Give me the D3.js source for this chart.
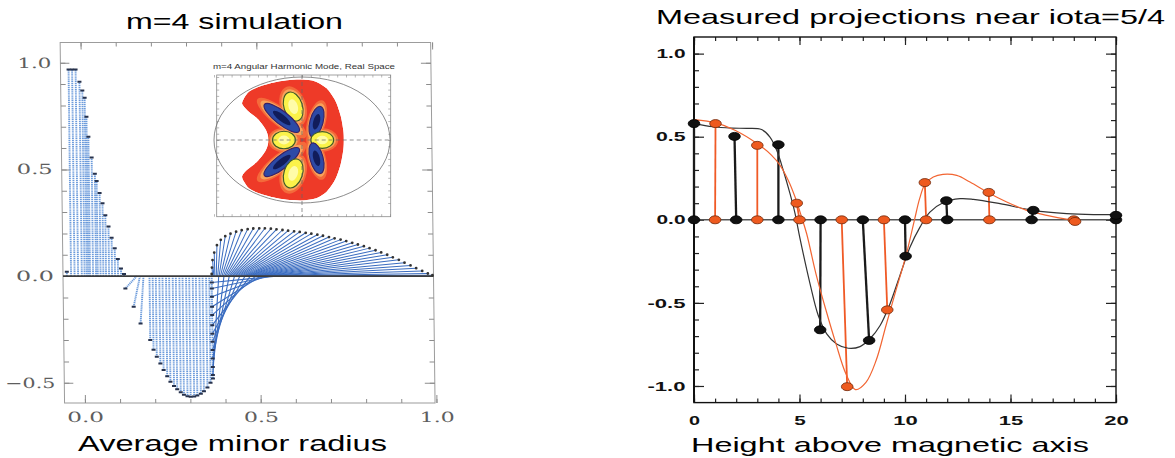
<!DOCTYPE html>
<html>
<head>
<meta charset="utf-8">
<title>m=4 mode: simulation and measured projections</title>
<script src="https://d3js.org/d3.v7.min.js"></script>
<style>
  html, body { margin: 0; padding: 0; background: #fff; }
  svg { display: block; }
</style>
</head>
<body>
<svg id="chart" width="1175" height="458"></svg>
<script>
// ================= Left panel: simulated m=4 radial profile =================
// Positive core near the axis (vertical stems)
const coreR   = [-0.047,-0.035,-0.025,-0.015,-0.0045,0.0034,0.0097,0.0142,0.019,0.0276,0.0361,0.041,0.049,0.0569,0.0645,0.0731,0.0816,0.0901,0.0986,0.1072,0.1157];
const coreVal = [0.02,0.969,0.969,0.969,0.911,0.87,0.836,0.747,0.653,0.556,0.48,0.446,0.39,0.341,0.285,0.232,0.18,0.13,0.08,0.036,0.01];

// Negative well: radius on the baseline, projected radius, value
const wellBase = [0.152,0.161,0.171,0.188,0.197,0.206,0.216,0.225,0.235,0.244,0.254,0.263,0.273,0.282,0.292,0.301,0.311,0.320,0.330,0.339,0.349,0.358,0.365];
const wellR    = [0.119,0.142,0.161,0.188,0.197,0.206,0.216,0.225,0.235,0.244,0.254,0.263,0.273,0.282,0.292,0.301,0.311,0.320,0.330,0.339,0.349,0.358,0.365];
const wellVal  = [-0.058,-0.144,-0.222,-0.30,-0.345,-0.378,-0.41,-0.44,-0.47,-0.495,-0.515,-0.53,-0.545,-0.556,-0.563,-0.566,-0.565,-0.56,-0.552,-0.54,-0.522,-0.50,-0.48];

// Values collapsing onto one projected radius, fanned back to the baseline
const columnR    = 0.365;
const columnVal  = [-0.03,-0.058,-0.097,-0.144,-0.183,-0.23,-0.27,-0.308,-0.347,-0.386,-0.426,-0.464];
const columnBase = [0.55,0.535,0.52,0.505,0.49,0.475,0.46,0.445,0.43,0.415,0.40,0.385];

// Outer positive arch
const archR    = [0.365,0.366,0.368,0.373,0.381,0.392,0.405,0.420,0.436,0.452,0.469,0.485,0.502,0.518,0.535,0.551,0.568,0.584,0.601,0.617,0.634,0.650,0.667,0.683,0.700,0.716,0.733,0.749,0.766,0.782,0.799,0.815,0.832,0.848,0.865,0.881,0.898,0.914,0.931,0.947,0.964,0.980,0.993];
const archVal  = [0.010,0.040,0.075,0.110,0.145,0.170,0.187,0.199,0.208,0.215,0.220,0.223,0.224,0.224,0.222,0.219,0.216,0.213,0.210,0.207,0.203,0.199,0.194,0.189,0.183,0.177,0.171,0.164,0.156,0.148,0.140,0.131,0.121,0.111,0.100,0.088,0.076,0.063,0.050,0.037,0.024,0.012,0.004];
const archBase = [0.365,0.368,0.371,0.374,0.378,0.382,0.386,0.390,0.394,0.398,0.402,0.406,0.410,0.414,0.418,0.422,0.426,0.430,0.434,0.438,0.442,0.446,0.450,0.454,0.458,0.462,0.466,0.470,0.474,0.478,0.483,0.487,0.491,0.496,0.500,0.505,0.509,0.514,0.518,0.523,0.528,0.533,0.538];

const leftXTicks = [0, 0.5, 1.0];
const leftXLabels = ["0.0", "0.5", "1.0"];
const leftXMinor = [0,0.1,0.2,0.3,0.4,0.5,0.6,0.7,0.8,0.9,1.0];
const leftYTicks = [-0.5, 0, 0.5, 1.0];
const leftYLabels = ["\u22120.5", "0.0", "0.5", "1.0"];
const leftYMinor = [-0.5,-0.4,-0.3,-0.2,-0.1,0,0.1,0.2,0.3,0.4,0.5,0.6,0.7,0.8,0.9,1.0];

// Inset: m=4 angular harmonic mode in real space (normalised coordinates)
const crescentU = [-0.66,-0.60,-0.48,-0.33,-0.17,0.00,0.15,0.28,0.38,0.44,0.47,0.475,0.47,0.44,0.38,0.28,0.15,0.00,-0.17,-0.33,-0.48,-0.60,-0.66,-0.68,-0.62,-0.50,-0.41,-0.38,-0.41,-0.50,-0.62,-0.68];
const crescentV = [0.66,0.77,0.85,0.91,0.95,0.96,0.93,0.82,0.62,0.38,0.15,0.0,-0.15,-0.38,-0.62,-0.82,-0.93,-0.96,-0.95,-0.91,-0.85,-0.77,-0.66,-0.57,-0.47,-0.33,-0.16,0.0,0.16,0.33,0.47,0.57];
const lobeU     = [-0.10,-0.23,0.165,-0.205,0.23,-0.23,0.165,-0.10];
const lobeV     = [0.53,0.35,0.29,0.0,0.0,-0.35,-0.29,-0.53];
const lobeLen   = [0.17,0.25,0.18,0.13,0.13,0.25,0.18,0.17];
const lobeWid   = [0.105,0.075,0.075,0.10,0.095,0.075,0.075,0.105];
const lobeAngle = [72,38,105,0,0,-38,-105,-72];
const lobeSign  = [1,-1,-1,1,1,-1,-1,1];

// ================= Right panel: measured projections near iota=5/4 =================
const blackBase = [0,2,4,6,8,10,12,16,20];
const blackTip  = [0,1.92,4.0,5.98,8.3,10.03,11.96,16.08,20];
const blackVal  = [0.579,0.502,0.452,-0.662,-0.726,-0.219,0.115,0.057,0.027];
const orangeBase = [1,3,5,7,9,11,14,18];
const orangeTip  = [1.02,3.0,4.87,7.26,9.16,10.94,13.97,18.06];
const orangeVal  = [0.579,0.448,0.10,-1.004,-0.542,0.224,0.165,-0.01];

const blackFitX = [0,0.9,1.8,2.5,3.2,3.6,3.92,4.23,4.55,4.79,5.02,5.5,5.89,6.29,6.76,7.31,7.87,8.34,8.82,9.29,9.76,10.24,10.71,11.18,11.82,12.61,13.24,14.5,16.08,17.66,18.93,20];
const blackFitY = [0.579,0.56,0.552,0.55,0.543,0.498,0.418,0.298,0.157,0.037,-0.11,-0.385,-0.576,-0.686,-0.747,-0.773,-0.763,-0.716,-0.636,-0.505,-0.335,-0.164,-0.044,0.046,0.104,0.127,0.123,0.097,0.057,0.037,0.031,0.031];
const orangeFitX = [0,1.04,1.94,3.0,3.68,4.08,4.47,4.79,5.1,5.34,5.78,6.26,6.73,7.2,7.65,8.15,8.63,9.1,9.57,10.05,10.45,10.7,10.95,11.34,11.8,12.45,13.08,13.95,14.82,15.77,16.72,17.98];
const orangeFitY = [0.603,0.583,0.539,0.458,0.388,0.328,0.237,0.137,0.016,-0.084,-0.325,-0.546,-0.747,-0.927,-1.022,-0.978,-0.847,-0.636,-0.425,-0.214,0.0,0.13,0.215,0.257,0.273,0.267,0.227,0.163,0.107,0.057,0.027,-0.004];

const rightXTicks = [0,5,10,15,20];
const rightXLabels = ["0","5","10","15","20"];
const rightXMinor = [0,1,2,3,4,5,6,7,8,9,10,11,12,13,14,15,16,17,18,19,20];
const rightYTicks = [-1.0,-0.5,0,0.5,1.0];
const rightYLabels = ["-1.0","-0.5","0.0","0.5","1.0"];
const rightYMinor = [-1.0,-0.9,-0.8,-0.7,-0.6,-0.5,-0.4,-0.3,-0.2,-0.1,0,0.1,0.2,0.3,0.4,0.5,0.6,0.7,0.8,0.9,1.0];

// ================= drawing =================
const svg = d3.select("#chart");

// widen tick labels to the set advance widths (keyed by tick value index)
function stretch(sel, widths) {
  sel.attr("textLength", (d, i) => widths[i]).attr("lengthAdjust", "spacingAndGlyphs");
}

function label(g, text, x, y, width, size, opts = {}) {
  return g.append("text")
    .attr("x", x).attr("y", y)
    .attr("text-anchor", "middle")
    .attr("font-family", opts.family || "'Liberation Sans', Arial, sans-serif")
    .attr("font-size", size)
    .attr("font-weight", opts.weight || "normal")
    .attr("fill", opts.fill || "#000")
    .attr("textLength", width)
    .attr("lengthAdjust", "spacingAndGlyphs")
    .text(text);
}

// ---------- left panel ----------
const L = { left: 63, right: 433.5, top: 42.5, bottom: 403 };
const lx = d3.scaleLinear().domain([-0.058, 0.996]).range([L.left, L.right]);
const ly = d3.scaleLinear().domain([-0.595, 1.095]).range([L.bottom, L.top]);
const y0 = ly(0);

label(svg, "m=4 simulation", 234.5, 29, 217, 22);
label(svg, "Average minor radius", 232.5, 451, 309, 22);

const left = svg.append("g")
  .attr("transform", `translate(0,${y0}) skewX(0.7) translate(0,${-y0})`);

left.append("rect")
  .attr("x", L.left).attr("y", L.top)
  .attr("width", L.right - L.left).attr("height", L.bottom - L.top)
  .attr("fill", "none").attr("stroke", "#9c9c9c").attr("stroke-width", 1);

function styleLeftAxis(g) {
  g.select(".domain").remove();
  g.selectAll(".tick line").attr("stroke", "#8c8c8c").attr("stroke-width", 1);
  g.selectAll("text").attr("font-family", "'DejaVu Serif', 'Liberation Serif', serif")
    .attr("font-size", 14).attr("fill", "#5e5e5e");
}

left.append("g").attr("transform", `translate(${L.left},0)`)
  .call(d3.axisLeft(ly).tickValues(leftYMinor).tickSize(-5).tickFormat(""))
  .call(styleLeftAxis);
left.append("g").attr("transform", `translate(${L.left},0)`)
  .call(d3.axisLeft(ly).tickValues(leftYTicks).tickSize(-9).tickPadding(9)
    .tickFormat((d, i) => leftYLabels[i]))
  .call(styleLeftAxis)
  .call(g => stretch(g.selectAll("text"), [50, 38, 36, 34]));
left.append("g").attr("transform", `translate(${L.right},0)`)
  .call(d3.axisRight(ly).tickValues(leftYMinor).tickSize(-5).tickFormat(""))
  .call(styleLeftAxis);
left.append("g").attr("transform", `translate(${L.right},0)`)
  .call(d3.axisRight(ly).tickValues(leftYTicks).tickSize(-10).tickFormat(""))
  .call(styleLeftAxis);
left.append("g").attr("transform", `translate(0,${L.bottom})`)
  .call(d3.axisBottom(lx).tickValues(leftXMinor).tickSize(-4).tickFormat(""))
  .call(styleLeftAxis);
left.append("g").attr("transform", `translate(0,${L.bottom})`)
  .call(d3.axisBottom(lx).tickValues(leftXTicks).tickSize(-8).tickPadding(9)
    .tickFormat((d, i) => leftXLabels[i]))
  .call(styleLeftAxis)
  .call(g => stretch(g.selectAll("text"), [37, 35, 35]));
left.append("g").attr("transform", `translate(0,${L.top})`)
  .call(d3.axisTop(lx).tickValues(leftXMinor).tickSize(-4).tickFormat(""))
  .call(styleLeftAxis);
left.append("g").attr("transform", `translate(0,${L.top})`)
  .call(d3.axisTop(lx).tickValues(leftXTicks).tickSize(-7).tickFormat(""))
  .call(styleLeftAxis);

// stems: each runs from (base, 0) to (projected radius, value)
const coreStems = coreR.map((r, i) => ({ b: r, r, v: coreVal[i] }));
const wellStems = wellR.map((r, i) => ({ b: wellBase[i], r, v: wellVal[i] }));
const colStems = columnVal.map((v, i) => ({ b: columnBase[i], r: columnR, v }));
const archStems = archR.map((r, i) => ({ b: archBase[i], r, v: archVal[i] }));

const stemG = left.append("g");
function drawStems(data, color, width, dash) {
  stemG.append("g").selectAll("line").data(data).join("line")
    .attr("x1", d => lx(d.b)).attr("y1", y0)
    .attr("x2", d => lx(d.r)).attr("y2", d => ly(d.v))
    .attr("stroke", color).attr("stroke-width", width)
    .attr("stroke-dasharray", dash || null);
}
drawStems(coreStems, "#6c9bdb", 1.9, "1.2 0.7");
drawStems(wellStems, "#6c9bdb", 1.9, "1.2 0.7");
drawStems(colStems, "#3a6cc0", 1.1);
drawStems(archStems, "#3a6cc0", 1);

left.append("line")
  .attr("x1", L.left).attr("x2", L.right).attr("y1", y0).attr("y2", y0)
  .attr("stroke", "#3c3c3c").attr("stroke-width", 1.8);

const markG = left.append("g").attr("fill", "#27324c");
markG.selectAll("rect.tip")
  .data(coreStems.concat(wellStems, colStems)).join("rect")
  .attr("x", d => lx(d.r) - 2).attr("y", d => ly(d.v) - 1)
  .attr("width", 4).attr("height", 2);
markG.selectAll("circle").data(archStems).join("circle")
  .attr("cx", d => lx(d.r)).attr("cy", d => ly(d.v)).attr("r", 1.4).attr("fill", "#333");

// ---------- inset ----------
const insetX = d3.scaleLinear().domain([-1, 1]).range([214, 390]);
const insetY = d3.scaleLinear().domain([-1, 1]).range([203, 77]);
const ux = insetX(1) - insetX(0);
const inset = svg.append("g");
const IF = { left: 216.7, right: 390.7, top: 75, bottom: 216.7 };

inset.append("rect").attr("x", IF.left).attr("y", IF.top)
  .attr("width", IF.right - IF.left).attr("height", IF.bottom - IF.top)
  .attr("fill", "#fff").attr("stroke", "#8a8a8a").attr("stroke-width", 0.8);
label(inset, "m=4 Angular Harmonic Mode, Real Space", 304, 68.5, 182, 7.8, { fill: "#333" });

const insetTicks = (g, axis, size) => g.call(axis.tickSize(size).tickFormat(""))
  .call(a => { a.select(".domain").remove(); a.selectAll("line").attr("stroke", "#8a8a8a").attr("stroke-width", 0.6); });
inset.append("g").attr("transform", `translate(0,${IF.top})`).call(g => insetTicks(g, d3.axisTop(insetX).ticks(20), -2.5));
inset.append("g").attr("transform", `translate(0,${IF.bottom})`).call(g => insetTicks(g, d3.axisBottom(insetX).ticks(20), -2.5));
inset.append("g").attr("transform", `translate(${IF.left},0)`).call(g => insetTicks(g, d3.axisLeft(insetY).ticks(20), -2.5));
inset.append("g").attr("transform", `translate(${IF.right},0)`).call(g => insetTicks(g, d3.axisRight(insetY).ticks(20), -2.5));

const crescent = d3.line().curve(d3.curveCardinalClosed.tension(0.2))
  .x(i => insetX(crescentU[i])).y(i => insetY(crescentV[i]))(d3.range(crescentU.length));

inset.append("clipPath").attr("id", "crescentClip").append("path").attr("d", crescent);
const mode = inset.append("g").attr("clip-path", "url(#crescentClip)");
mode.append("path").attr("d", crescent).attr("fill", "#ee3a28");

const lobes = lobeU.map((u, i) => ({
  cx: insetX(u), cy: insetY(lobeV[i]), a: lobeLen[i] * ux, b: lobeWid[i] * ux,
  rot: lobeAngle[i], pos: lobeSign[i] > 0
}));
function lobeLayer(scale, fill, stroke, sw) {
  mode.append("g").selectAll("ellipse").data(lobes).join("ellipse")
    .attr("transform", d => `translate(${d.cx},${d.cy}) rotate(${d.rot})`)
    .attr("rx", d => d.a * scale).attr("ry", d => d.b * scale)
    .attr("fill", d => typeof fill === "function" ? fill(d) : fill)
    .attr("stroke", d => stroke ? (typeof stroke === "function" ? stroke(d) : stroke) : "none")
    .attr("stroke-width", sw || 0);
}
lobeLayer(1.4, "#f46a3a");
lobeLayer(1.2, "#f8a25a");
lobeLayer(1.0, d => d.pos ? "#fbf24a" : "#2c4aa6", d => d.pos ? "#3c5a26" : "#3a1f66", 1.1);
lobeLayer(0.5, d => d.pos ? "#fffca8" : "#111c5a");

inset.append("ellipse")
  .attr("cx", insetX(0)).attr("cy", insetY(0))
  .attr("rx", ux).attr("ry", insetY(0) - insetY(1))
  .attr("fill", "none").attr("stroke", "#6e6e6e").attr("stroke-width", 0.8);
inset.append("line").attr("x1", IF.left).attr("x2", IF.right)
  .attr("y1", insetY(0)).attr("y2", insetY(0))
  .attr("stroke", "#666").attr("stroke-width", 0.7).attr("stroke-dasharray", "4 3");
inset.append("line").attr("x1", insetX(0)).attr("x2", insetX(0))
  .attr("y1", IF.top).attr("y2", IF.bottom)
  .attr("stroke", "#666").attr("stroke-width", 0.7).attr("stroke-dasharray", "4 3");

// ---------- right panel ----------
const R = { left: 694, right: 1116, top: 37, bottom: 402.6 };
const rx = d3.scaleLinear().domain([0, 20]).range([R.left, R.right]);
const ry = d3.scaleLinear().domain([-1.1, 1.1]).range([R.bottom, R.top]);
const right = svg.append("g");

label(svg, "Measured projections near iota=5/4", 910.5, 23.5, 509, 21);
label(svg, "Height above magnetic axis", 890, 452, 398, 21);

function styleRightAxis(g) {
  g.select(".domain").remove();
  g.selectAll(".tick line").attr("stroke", "#222").attr("stroke-width", 1.2);
  g.selectAll("text").attr("font-family", "'Liberation Sans', Arial, sans-serif")
    .attr("font-size", 13).attr("font-weight", "bold").attr("fill", "#111");
}
right.append("g").attr("transform", `translate(${R.left},0)`)
  .call(d3.axisLeft(ry).tickValues(rightYMinor).tickSize(-5).tickFormat("")).call(styleRightAxis);
right.append("g").attr("transform", `translate(${R.left},0)`)
  .call(d3.axisLeft(ry).tickValues(rightYTicks).tickSize(-10).tickPadding(8.5)
    .tickFormat((d, i) => rightYLabels[i]))
  .call(styleRightAxis)
  .call(g => stretch(g.selectAll("text"), [38, 38, 29, 29.5, 29]));
right.append("g").attr("transform", `translate(${R.right},0)`)
  .call(d3.axisRight(ry).tickValues(rightYMinor).tickSize(-5).tickFormat("")).call(styleRightAxis);
right.append("g").attr("transform", `translate(${R.right},0)`)
  .call(d3.axisRight(ry).tickValues(rightYTicks).tickSize(-10).tickFormat("")).call(styleRightAxis);
right.append("g").attr("transform", `translate(0,${R.bottom})`)
  .call(d3.axisBottom(rx).tickValues(rightXMinor).tickSize(-4).tickFormat("")).call(styleRightAxis);
right.append("g").attr("transform", `translate(0,${R.bottom})`)
  .call(d3.axisBottom(rx).tickValues(rightXTicks).tickSize(-8).tickPadding(13)
    .tickFormat((d, i) => rightXLabels[i]))
  .call(styleRightAxis)
  .call(g => stretch(g.selectAll("text"), [11, 11.5, 24.5, 24.5, 24.5]));
right.append("g").attr("transform", `translate(0,${R.top})`)
  .call(d3.axisTop(rx).tickValues(rightXMinor).tickSize(-4).tickFormat("")).call(styleRightAxis);
right.append("g").attr("transform", `translate(0,${R.top})`)
  .call(d3.axisTop(rx).tickValues(rightXTicks).tickSize(-8).tickFormat("")).call(styleRightAxis);

right.append("rect").attr("x", R.left).attr("y", R.top)
  .attr("width", R.right - R.left).attr("height", R.bottom - R.top)
  .attr("fill", "none").attr("stroke", "#111").attr("stroke-width", 1.4);
right.append("line").attr("x1", R.left).attr("x2", R.left).attr("y1", R.top).attr("y2", R.bottom)
  .attr("stroke", "#111").attr("stroke-width", 2);

right.append("line").attr("x1", rx(0)).attr("x2", rx(20)).attr("y1", ry(0)).attr("y2", ry(0))
  .attr("stroke", "#555").attr("stroke-width", 1.6);

const blackPts = blackBase.map((b, i) => ({ b, t: blackTip[i], v: blackVal[i] }));
const orangePts = orangeBase.map((b, i) => ({ b, t: orangeTip[i], v: orangeVal[i] }));

right.append("g").selectAll("line").data(orangePts).join("line")
  .attr("x1", d => rx(d.b)).attr("y1", ry(0)).attr("x2", d => rx(d.t)).attr("y2", d => ry(d.v))
  .attr("stroke", "#f05a26").attr("stroke-width", 1.8);
right.append("g").selectAll("line").data(blackPts).join("line")
  .attr("x1", d => rx(d.b)).attr("y1", ry(0)).attr("x2", d => rx(d.t)).attr("y2", d => ry(d.v))
  .attr("stroke", "#1a1a1a").attr("stroke-width", 2.3);

const fitLine = d3.line().curve(d3.curveCatmullRom.alpha(0.5));
right.append("path")
  .attr("d", fitLine(blackFitX.map((x, i) => [rx(x), ry(blackFitY[i])])))
  .attr("fill", "none").attr("stroke", "#333").attr("stroke-width", 1.2);
right.append("path")
  .attr("d", fitLine(orangeFitX.map((x, i) => [rx(x), ry(orangeFitY[i])])))
  .attr("fill", "none").attr("stroke", "#f26532").attr("stroke-width", 1.2);

function dots(data, key, fill, stroke) {
  right.append("g").selectAll("ellipse").data(data).join("ellipse")
    .attr("cx", d => rx(key === "base" ? d.b : d.t))
    .attr("cy", d => key === "base" ? ry(0) : ry(d.v))
    .attr("rx", 5.8).attr("ry", 4)
    .attr("fill", fill).attr("stroke", stroke).attr("stroke-width", 0.8);
}
dots(orangePts, "base", "#ee5a1f", "#6e2a0c");
dots(blackPts, "base", "#111", "#000");
dots(orangePts, "tip", "#ee5a1f", "#6e2a0c");
dots(blackPts, "tip", "#111", "#000");
</script>
</body>
</html>
